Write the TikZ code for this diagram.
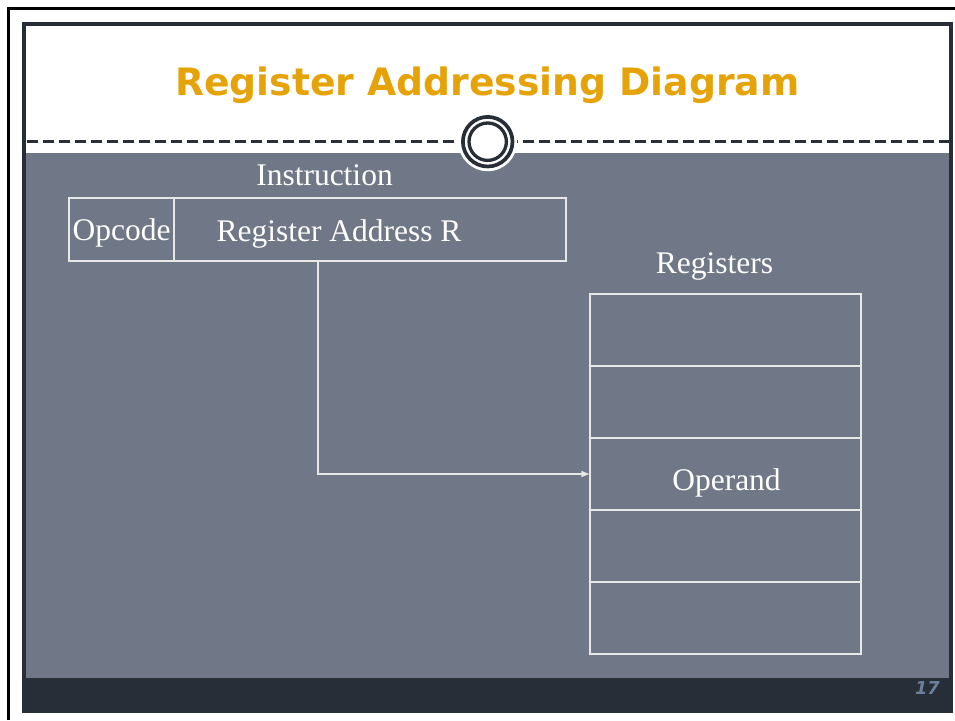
\documentclass[tikz,border=0pt]{standalone}
\usepackage{fontspec}
\setmainfont{Liberation Serif}
\newfontfamily\headfont{DejaVu Sans}
\usetikzlibrary{arrows.meta}

\definecolor{slidedark}{RGB}{40,46,56}
\definecolor{slidegray}{RGB}{112,119,134}
\definecolor{titleorange}{RGB}{230,163,8}
\definecolor{pagenum}{RGB}{106,128,155}
\definecolor{boxline}{RGB}{232,232,232}

\tikzset{
  txt/.style={text=white, inner sep=0pt, font=\fontsize{31.5}{36}\selectfont},
  box/.style={txt, draw=boxline, line width=1.4pt},
  regbox/.style={box, minimum width=271pt, minimum height=72pt},
  wire/.style={draw=boxline, line width=1.4pt, -{Triangle[length=8pt,width=6pt]}},
}

\begin{document}
\begin{tikzpicture}[x=1pt,y=-1pt]
		%%%%% SLIDE %%%%%
		\useasboundingbox (0,0) rectangle (955,720);
		\fill[white] (0,0) rectangle (955,720);
		\draw[line width=2.7pt] (8.5,720) -- (8.5,8.5) -- (955,8.5);
		
		\fill[slidedark] (21.5,21.5) rectangle (953,712.5);
		\fill[white] (25.5,25.5) rectangle (948.5,153);
		\fill[slidegray] (25.5,153) rectangle (948.5,678);
		
		\draw[slidedark, line width=3.5pt, dash pattern=on 11.5pt off 4.5pt] (26.5,141.5) -- (948.5,141.5);
		\fill[white] (487.7,141.7) circle (29.5pt);
		\draw[slidedark, line width=3.7pt] (487.7,141.7) circle (24.8pt);
		\draw[slidedark, line width=3.3pt] (487.7,141.7) circle (18.7pt);
		
		\node[anchor=base, inner sep=0pt, text=titleorange, font=\headfont\bfseries\fontsize{37.7}{44}\selectfont] (title) at (487.5,95) {Register Addressing Diagram};
		\node[anchor=base east, inner sep=0pt, text=pagenum, font=\headfont\bfseries\itshape\fontsize{17.8}{20}\selectfont] (pageno) at (940,694) {17};
		
		%%%%% INSTRUCTION %%%%%
		\node[txt, anchor=base] (instr) at (324.5,185) {Instruction};
		\node[box, minimum width=105pt, minimum height=63pt, text height=24pt, text depth=3pt] (opcode) at (121.5,229.5) {Opcode};
		\node[box, minimum width=392pt, minimum height=63pt] (regaddr) at (370,229.5) {};
		\node[txt, anchor=base] (addrtext) at (339,241) {Register Address R};
		
		%%%%% REGISTERS %%%%%
		\node[txt, anchor=base] (reglabel) at (714.5,273) {Registers};
		\foreach \i in {1,...,5}
			\node[regbox] (reg\i) at (725.5,{258+72*\i}) {};
		\node[txt, anchor=base] (operand) at (726.5,490) {Operand};
		
		\coordinate (tap) at ([xshift=-52pt]regaddr.south);
		\draw[wire] (tap) |- (reg3.west);
		
		%%%%% END %%%%%
	\end{tikzpicture}
\end{document}
